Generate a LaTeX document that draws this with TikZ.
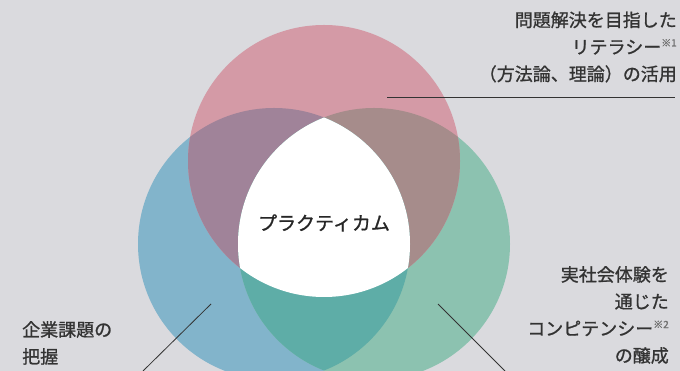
\documentclass[tikz,border=0pt]{standalone}
\usepackage{xcolor}
\usepackage{fontspec}
\newfontfamily\jpfont{Noto Sans CJK JP}[FakeBold=1]
\usepackage{tikz}
\usetikzlibrary{positioning}

\definecolor{bgc}{HTML}{DADADE}
\definecolor{redc}{HTML}{D49AA6}
\definecolor{bluec}{HTML}{82B4CB}
\definecolor{greenc}{HTML}{8CC2B0}
\definecolor{rbc}{HTML}{A08399}
\definecolor{rgc}{HTML}{A68C8B}
\definecolor{bgrc}{HTML}{5EADA7}
\definecolor{txt}{HTML}{333333}
\definecolor{notec}{HTML}{6E6E6E}

\newcommand{\redring}{(324,210) circle (136)}
\newcommand{\bluering}{(274,127) circle (136)}
\newcommand{\greenring}{(374,127) circle (136)}
\newcommand{\notemark}[1]{\raisebox{0.4em}{\fontsize{10}{10}\selectfont\color{notec}#1}}

\begin{document}
\begin{tikzpicture}[
  x=1pt, y=1pt,
  jptext/.style={font=\jpfont\fontsize{18}{27}\selectfont, text=txt, inner sep=0pt},
  leader/.style={draw=txt, line width=0.8pt}
]
\useasboundingbox (0,0) rectangle (680,371);
\fill[bgc] (0,0) rectangle (680,371);
\clip (0,0) rectangle (680,371);

% circles
\fill[bluec] \bluering;
\fill[greenc] \greenring;
\fill[redc] \redring;
% overlaps
\begin{scope}
  \clip \redring;
  \fill[rbc] \bluering;
  \fill[rgc] \greenring;
\end{scope}
\begin{scope}
  \clip \bluering;
  \fill[bgrc] \greenring;
\end{scope}
\begin{scope}
  \clip \redring;
  \clip \bluering;
  \fill[white] \greenring;
\end{scope}

% texts
\node[jptext, text=black!85, font=\jpfont\fontsize{19}{27}\selectfont] (core) at (324,148) {プラクティカム};
\node[jptext, anchor=east, align=right] (literacy) at (677,324)
  {問題解決を目指した\\リテラシー\notemark{※1}\\（方法論、理論）の活用};
\node[jptext, anchor=east, align=right] (competency) at (669,56)
  {実社会体験を\\通じた\\コンピテンシー\notemark{※2}\\の醸成};
\node[jptext, anchor=west, align=left] (issues) at (22,28)
  {企業課題の\\把握};

% leaders
\coordinate (litpt) at (387,274);
\coordinate (litend) at (675,274);
\coordinate (isspt) at (211,67);
\coordinate (issend) at (143,0);
\coordinate (compt) at (438,67);
\coordinate (comend) at (505,0);
\draw[leader] (litpt) -- (litend);
\draw[leader] (isspt) -- (issend);
\draw[leader] (compt) -- (comend);
\end{tikzpicture}
\end{document}
